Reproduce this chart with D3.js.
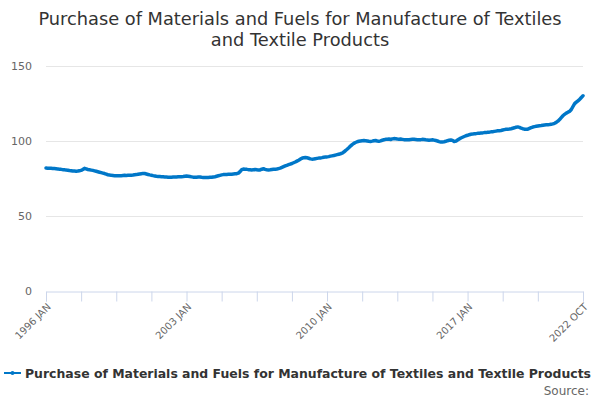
<!DOCTYPE html>
<html>
<head>
<meta charset="utf-8">
<script src="https://cdn.jsdelivr.net/npm/d3@7"></script>
<style>
  body { margin: 0; background: #fff; }
  text { font-family: "DejaVu Sans", sans-serif; }
</style>
</head>
<body>
<div id="chart"></div>
<script>
const title = ["Purchase of Materials and Fuels for Manufacture of Textiles", "and Textile Products"];
const seriesName = "Purchase of Materials and Fuels for Manufacture of Textiles and Textile Products";
const years = d3.range(1996, 2023);
const monthNames = ["JAN", "FEB", "MAR", "APR", "MAY", "JUN", "JUL", "AUG", "SEP", "OCT", "NOV", "DEC"];
const yTicks = [0, 50, 100, 150];

// monthly values, 1996 JAN .. 2022 OCT
const values = [
  82.0, 81.9, 81.9, 81.8, 81.7, 81.6, 81.5, 81.4, 81.2, 81.1, 80.9, 80.8,
  80.6, 80.5, 80.3, 80.2, 80.0, 80.0, 79.9, 80.0, 80.2, 80.4, 81.0, 81.8,
  81.4, 81.0, 80.8, 80.6, 80.4, 80.1, 79.8, 79.5, 79.2, 78.9, 78.6, 78.3,
  77.9, 77.5, 77.3, 77.1, 77.0, 76.9, 76.9, 76.8, 76.9, 76.9, 77.0, 77.1,
  77.0, 77.1, 77.1, 77.2, 77.3, 77.5, 77.6, 77.8, 78.0, 78.2, 78.4, 78.3,
  78.0, 77.7, 77.4, 77.2, 76.9, 76.7, 76.5, 76.4, 76.3, 76.2, 76.1, 76.0,
  76.0, 75.9, 75.9, 75.9, 76.0, 76.0, 76.0, 76.1, 76.2, 76.2, 76.3, 76.5,
  76.6, 76.5, 76.3, 76.1, 75.9, 75.8, 75.9, 76.0, 76.0, 75.8, 75.7, 75.7,
  75.6, 75.7, 75.8, 75.8, 76.0, 76.2, 76.5, 76.8, 77.1, 77.4, 77.6, 77.7,
  77.7, 77.8, 77.9, 77.9, 78.0, 78.1, 78.2, 78.6, 79.6, 80.9, 81.3, 81.2,
  81.1, 80.9, 80.8, 80.7, 80.9, 81.0, 80.8, 80.6, 80.7, 81.2, 81.5, 81.1,
  80.8, 80.7, 80.8, 81.0, 81.2, 81.1, 81.3, 81.6, 81.9, 82.4, 82.9, 83.4,
  83.8, 84.2, 84.6, 85.0, 85.5, 86.0, 86.6, 87.2, 87.9, 88.5, 88.9, 89.0,
  88.8, 88.5, 88.1, 87.9, 88.0, 88.2, 88.4, 88.6, 88.7, 88.9, 89.2, 89.3,
  89.4, 89.6, 89.9, 90.1, 90.3, 90.6, 90.9, 91.2, 91.5, 91.9, 92.6, 93.6,
  94.5, 95.5, 96.6, 97.6, 98.4, 99.0, 99.5, 99.8, 100.0, 100.2, 100.3, 100.2,
  100.0, 99.8, 99.7, 99.9, 100.2, 100.3, 100.0, 99.8, 100.1, 100.5, 100.8, 101.1,
  101.2, 101.3, 101.0, 101.4, 101.6, 101.5, 101.3, 101.2, 101.3, 101.1, 100.9, 100.9,
  100.8, 100.9, 101.0, 101.1, 101.1, 101.0, 100.9, 100.8, 100.9, 101.1, 101.0, 100.8,
  100.7, 100.5, 100.6, 100.8, 100.6, 100.3, 100.0, 99.6, 99.3, 99.4, 99.5, 99.8,
  100.2, 100.5, 100.7, 100.4, 99.6, 99.9, 100.6, 101.3, 102.0, 102.5, 103.0, 103.5,
  103.8, 104.2, 104.5, 104.6, 104.8, 104.9, 105.1, 105.2, 105.3, 105.4, 105.6, 105.6,
  105.8, 105.9, 106.1, 106.2, 106.4, 106.6, 106.8, 106.9, 107.0, 107.3, 107.6, 107.8,
  107.9, 108.0, 108.2, 108.5, 108.8, 109.2, 109.4, 109.1, 108.6, 108.2, 107.9, 107.8,
  107.9, 108.4, 108.9, 109.3, 109.6, 109.8, 110.0, 110.2, 110.3, 110.5, 110.7, 110.8,
  110.9, 111.0, 111.2, 111.4, 111.8, 112.4, 113.2, 114.3, 115.6, 116.8, 117.8, 118.6,
  119.2, 119.7, 121.0, 123.0, 124.9, 125.9, 126.8, 127.7, 129.0, 130.1
];

// category labels built from years x months
const categories = [];
years.forEach(y => monthNames.forEach(m => categories.push(y + " " + m)));
categories.length = values.length;

const data = values.map((v, i) => ({ cat: categories[i], i: i, v: v }));

const width = 600, height = 400;
const margin = { top: 66, right: 17, bottom: 109, left: 46 };
const color = "#0077c8";

const svg = d3.select("#chart").append("svg")
    .attr("width", width)
    .attr("height", height);

// title
svg.append("text")
    .attr("x", width / 2)
    .attr("y", 25)
    .attr("text-anchor", "middle")
    .style("font-size", "17.8px")
    .style("fill", "#333333")
    .selectAll("tspan")
    .data(title)
    .join("tspan")
    .attr("x", width / 2)
    .attr("dy", (d, i) => i ? 21 : 0)
    .text(d => d);

const x = d3.scaleLinear()
    .domain([0, values.length - 1])
    .range([margin.left, width - margin.right]);

const y = d3.scaleLinear()
    .domain([0, 150])
    .range([height - margin.bottom, margin.top]);

// gridlines
svg.append("g")
    .selectAll("line")
    .data(yTicks.filter(d => d > 0))
    .join("line")
    .attr("x1", margin.left)
    .attr("x2", width - margin.right)
    .attr("y1", d => Math.round(y(d)) + 0.5)
    .attr("y2", d => Math.round(y(d)) + 0.5)
    .attr("stroke", "#e6e6e6");

// y axis labels
const yAxis = svg.append("g")
    .attr("transform", `translate(${margin.left},0)`)
    .call(d3.axisLeft(y).tickValues(yTicks).tickSize(0).tickPadding(14));
yAxis.select(".domain").remove();
yAxis.selectAll("text")
    .style("font-size", "11px")
    .style("fill", "#666666");

// x axis: ticks every 21 months plus the last point, labels every 84 months
const tickIdx = d3.range(0, values.length - 20, 21).concat([values.length - 1]);
const labelIdx = [0, 84, 168, 252, values.length - 1];
const xAxis = svg.append("g")
    .attr("transform", `translate(0,${Math.round(y(0)) + 0.5})`)
    .call(d3.axisBottom(x).tickValues(tickIdx).tickSize(10)
        .tickFormat(i => labelIdx.includes(i) ? categories[i] : ""));
xAxis.select(".domain").attr("stroke", "#ccd6eb");
xAxis.selectAll(".tick line").attr("stroke", "#ccd6eb");
xAxis.selectAll(".tick text")
    .style("font-size", "10px")
    .style("fill", "#666666")
    .attr("text-anchor", "end")
    .attr("y", 0)
    .attr("dy", 0)
    .attr("transform", "translate(5,16) rotate(-45)");

// line
const line = d3.line()
    .x(d => x(d.i))
    .y(d => y(d.v));

svg.append("path")
    .datum(data)
    .attr("fill", "none")
    .attr("stroke", color)
    .attr("stroke-width", 3.5)
    .attr("stroke-linejoin", "round")
    .attr("stroke-linecap", "round")
    .attr("d", line);

// legend
const legend = svg.append("g").attr("transform", "translate(0,373)");
legend.append("line")
    .attr("x1", 4).attr("x2", 21)
    .attr("stroke", color).attr("stroke-width", 2);
legend.append("circle")
    .attr("cx", 12.5).attr("r", 2)
    .attr("fill", color);
const legendText = legend.append("text")
    .attr("x", 25)
    .attr("y", 5)
    .style("font-size", "13px")
    .style("font-weight", "bold")
    .style("fill", "#333333")
    .text(seriesName);
// shrink the legend label so it fits the same span as in the reference
const maxLegend = 566;
const w13 = legendText.node().getComputedTextLength();
if (w13 > maxLegend) legendText.style("font-size", (13 * maxLegend / w13).toFixed(2) + "px");

svg.append("text")
    .attr("x", 589)
    .attr("y", 395)
    .attr("text-anchor", "end")
    .style("font-size", "12px")
    .style("fill", "#666666")
    .text("Source:");
</script>
</body>
</html>
